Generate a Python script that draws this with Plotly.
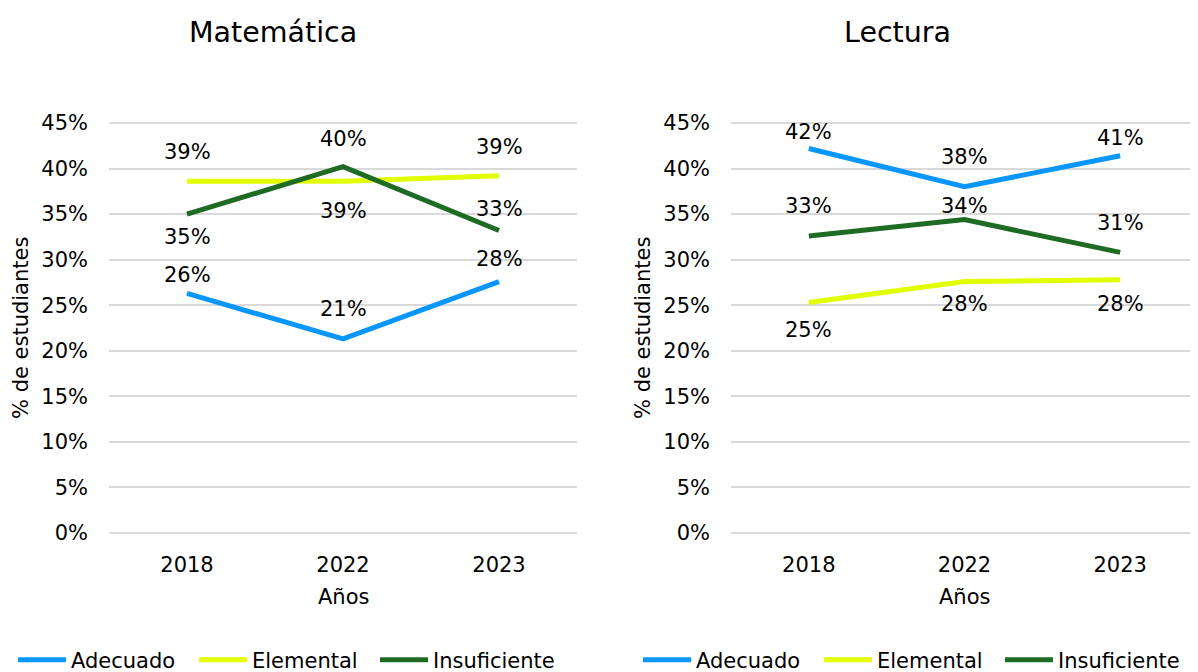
import plotly.graph_objects as go

years = ["2018", "2022", "2023"]
series_names = ["Adecuado", "Elemental", "Insuficiente"]

# Matemática (% de estudiantes)
mat_adecuado = [26.3, 21.3, 27.6]
mat_elemental = [38.6, 38.6, 39.2]
mat_insuficiente = [35.0, 40.2, 33.2]

# Lectura (% de estudiantes)
lec_adecuado = [42.2, 38.0, 41.4]
lec_elemental = [25.3, 27.6, 27.8]
lec_insuficiente = [32.6, 34.4, 30.8]

y_ticks = [0, 5, 10, 15, 20, 25, 30, 35, 40, 45]

# ---- styling / label placement (pixel shifts, + = above) ----
colors = {"Adecuado": "#0A96FF", "Elemental": "#E2FF00", "Insuficiente": "#1E6B24"}
mat_shift = {"Adecuado": [18, 30, 23], "Elemental": [29, -30, 29], "Insuficiente": [-23, 28, 22]}
lec_shift = {"Adecuado": [17, 30, 18], "Elemental": [-28, -22, -24], "Insuficiente": [30, 14, 29]}

FONT = "DejaVu Sans"
FS = 21
OFF = 8  # page body margin
W, H = 1198 - OFF, 672 - OFF
PAD = 0.25  # small range padding so the 0% and 45% gridlines are drawn
PX_PER_UNIT = (533 - 123) / 45


def px(x):
    return (x - OFF) / W


def py(y):
    return 1 - (y - OFF) / H


panels = [
    dict(title="Matemática", data={"Adecuado": mat_adecuado, "Elemental": mat_elemental,
                                    "Insuficiente": mat_insuficiente},
         shift=mat_shift, xa="x", ya="y", legend="legend", dom=(px(109), px(577)),
         title_x=px(273), ytitle_x=px(21)),
    dict(title="Lectura", data={"Adecuado": lec_adecuado, "Elemental": lec_elemental,
                                 "Insuficiente": lec_insuficiente},
         shift=lec_shift, xa="x2", ya="y2", legend="legend2", dom=(px(731), 1.0),
         title_x=px(897), ytitle_x=px(643)),
]

fig = go.Figure()
annotations = []
ydom = (py(533 + PAD * PX_PER_UNIT), py(123 - PAD * PX_PER_UNIT))

for p in panels:
    for name in series_names:
        vals = p["data"][name]
        fig.add_trace(go.Scatter(
            x=years, y=vals, mode="lines", name=name,
            line=dict(color=colors[name], width=5),
            xaxis=p["xa"], yaxis=p["ya"], legend=p["legend"],
            hoverinfo="skip",
        ))
        for i, (yr, v) in enumerate(zip(years, vals)):
            annotations.append(dict(
                x=i, y=v, xref=p["xa"], yref=p["ya"],
                text=f"{int(v + 0.5)}%", showarrow=False,
                yshift=p["shift"][name][i],
                font=dict(family=FONT, size=FS, color="#000000"),
                xanchor="center", yanchor="middle",
            ))
    # panel title
    annotations.append(dict(
        x=p["title_x"], y=py(32), xref="paper", yref="paper", text=p["title"],
        showarrow=False, xanchor="center", yanchor="middle",
        font=dict(family=FONT, size=28.5, color="#000000"),
    ))
    # y axis title
    annotations.append(dict(
        x=p["ytitle_x"], y=py(328), xref="paper", yref="paper",
        text="% de estudiantes", textangle=-90, showarrow=False,
        xanchor="center", yanchor="middle",
        font=dict(family=FONT, size=FS, color="#000000"),
    ))
    # x axis title
    annotations.append(dict(
        x=0.5, y=py(597), xref=p["xa"] + " domain", yref="paper", text="Años",
        showarrow=False, xanchor="center", yanchor="middle",
        font=dict(family=FONT, size=FS, color="#000000"),
    ))

axis_common_x = dict(type="category", range=[-0.5, 2.5], showgrid=False, zeroline=False,
                     showline=False, ticks="", ticklabelstandoff=15,
                     tickfont=dict(family=FONT, size=FS, color="#000000"))
axis_common_y = dict(range=[-PAD, 45 + PAD], tickmode="array", tickvals=y_ticks,
                     ticktext=[f"{t}%" for t in y_ticks], showgrid=True,
                     gridcolor="#D9D9D9", gridwidth=1.5, zeroline=False, showline=False,
                     ticks="", ticklabelstandoff=20,
                     tickfont=dict(family=FONT, size=FS, color="#000000"))

legend_common = dict(orientation="h", yanchor="middle", y=py(660), xanchor="left",
                     font=dict(family=FONT, size=FS, color="#000000"),
                     itemwidth=48, entrywidth=118, entrywidthmode="pixels",
                     bgcolor="rgba(0,0,0,0)", tracegroupgap=0)

fig.update_layout(
    width=W, height=H,
    margin=dict(l=0, r=0, t=0, b=0, pad=0, autoexpand=False),
    paper_bgcolor="white", plot_bgcolor="white",
    font=dict(family=FONT, size=FS, color="#000000"),
    xaxis=dict(domain=list(panels[0]["dom"]), anchor="y", **axis_common_x),
    yaxis=dict(domain=list(ydom), anchor="x", **axis_common_y),
    xaxis2=dict(domain=list(panels[1]["dom"]), anchor="y2", **axis_common_x),
    yaxis2=dict(domain=list(ydom), anchor="x2", **axis_common_y),
    legend=dict(x=px(13), **legend_common),
    legend2=dict(x=px(638), **legend_common),
    annotations=annotations,
    showlegend=True,
)

fig.write_html("out.html")
